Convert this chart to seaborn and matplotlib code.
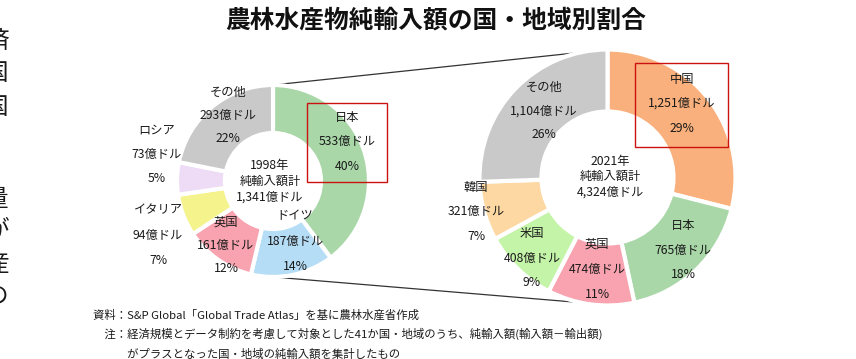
import matplotlib
matplotlib.use("Agg")
import matplotlib.pyplot as plt
from matplotlib.patches import Rectangle
import seaborn as sns

# ---------------- data ----------------
title = "農林水産物純輸入額の国・地域別割合"

names_1998 = ["日本", "ドイツ", "英国", "イタリア", "ロシア", "その他"]
values_1998 = [533, 187, 161, 94, 73, 293]
pcts_1998 = [40, 14, 12, 7, 5, 22]
total_1998 = "1,341"
year_1998 = "1998年"

names_2021 = ["中国", "日本", "英国", "米国", "韓国", "その他"]
values_2021 = [1251, 765, 474, 408, 321, 1104]
pcts_2021 = [29, 18, 11, 9, 7, 26]
total_2021 = "4,324"
year_2021 = "2021年"

notes = [
    "資料：S&P Global「Global Trade Atlas」を基に農林水産省作成",
    "　注：経済規模とデータ制約を考慮して対象とした41か国・地域のうち、純輸入額(輸入額－輸出額)",
    "　　　がプラスとなった国・地域の純輸入額を集計したもの",
]
side_chars = ["済", "国", "国", "量", "が", "産", "の"]

# ---------------- style ----------------
colors_1998 = ["#A9D7A8", "#B6DDF6", "#F8A3AF", "#F4F38C", "#EEDCF6", "#C9C9C9"]
colors_2021 = ["#F9B07C", "#A9D7A8", "#F8A3AF", "#C4F4A8", "#FDD8A2", "#C9C9C9"]

sns.set_theme(style="white")
plt.rcParams["font.family"] = ["Noto Sans CJK JP", "DejaVu Sans"]

W, H = 856, 359
fig = plt.figure(figsize=(W / 100, H / 100), dpi=100)
ax = fig.add_axes([0, 0, 1, 1])

def Y(y):
    return H - y

# pie geometry (pixel layout)
c1, r1, w1 = (273, Y(181)), 96, 48
c2, r2, w2 = (607.5, Y(177.5)), 128, 62

wp = dict(edgecolor="white", linewidth=3)
ax.pie(values_1998, colors=colors_1998, startangle=90, counterclock=False,
       center=c1, radius=r1, wedgeprops=dict(width=w1, **wp), frame=True)
ax.pie(values_2021, colors=colors_2021, startangle=90, counterclock=False,
       center=c2, radius=r2, wedgeprops=dict(width=w2, **wp), frame=True)
ax.set_xlim(0, W)
ax.set_ylim(0, H)
ax.set_aspect("equal")
ax.axis("off")

# connector lines
ax.plot([c1[0], c2[0]], [c1[1] + r1, c2[1] + r2], color="#333333", lw=0.9, zorder=0)
ax.plot([c1[0], c2[0] - 4], [c1[1] - r1, c2[1] - r2 + 1], color="#333333", lw=0.9, zorder=0)

fs = 8.8
tc = "#1a1a1a"
# label positions (x, y of name line), line step
pos_1998 = [(347, 117), (295, 216), (226, 222), (158, 210), (157, 130), (228, 92)]
pos_2021 = [(682, 79), (683, 225), (597, 244), (532, 233), (476, 187), (544, 87)]
steps_1998 = [24.5, 25, 23.5, 25, 24.5, 23.5]
steps_2021 = [24.5, 25, 25, 25, 24.5, 24]

def labels(names, values, pcts, pos, steps):
    for n, v, p, (x, y), s in zip(names, values, pcts, pos, steps):
        ax.text(x, Y(y), n, ha="center", va="center", fontsize=fs, color=tc)
        ax.text(x, Y(y + s), f"{v:,}億ドル", ha="center", va="center", fontsize=fs, color=tc)
        ax.text(x, Y(y + 2 * s), f"{p}%", ha="center", va="center", fontsize=fs, color=tc)

labels(names_1998, values_1998, pcts_1998, pos_1998, steps_1998)
labels(names_2021, values_2021, pcts_2021, pos_2021, steps_2021)

# centre texts
for (x, y0), yr, tot in [((270, 166), year_1998, total_1998), ((610, 161), year_2021, total_2021)]:
    ax.text(x, Y(y0), yr, ha="center", va="center", fontsize=fs, color=tc)
    ax.text(x, Y(y0 + 15.5), "純輸入額計", ha="center", va="center", fontsize=fs, color=tc)
    ax.text(x, Y(y0 + 31), f"{tot}億ドル", ha="center", va="center", fontsize=fs, color=tc)

# red highlight boxes
ax.add_patch(Rectangle((307, Y(182)), 80, 79, fill=False, edgecolor="#CC1111", lw=1.0, zorder=5))
ax.add_patch(Rectangle((635, Y(147)), 93, 84, fill=False, edgecolor="#CC1111", lw=1.0, zorder=5))

# title
ax.text(436, Y(21), title, ha="center", va="center", fontsize=17.8, fontweight="bold", color="#111111")

# notes
for t, y in zip(notes, [315, 334, 354]):
    ax.text(93, Y(y), t, ha="left", va="center", fontsize=8.2, color=tc)

# cropped side text at the left edge (cut off in the reference too)
side_y = [41, 74, 108, 200, 231, 265, 297]
for ch, y in zip(side_chars, side_y):
    ax.text(-3, Y(y), ch, ha="center", va="center", fontsize=17, color=tc)

fig.savefig("out.png", dpi=100)
